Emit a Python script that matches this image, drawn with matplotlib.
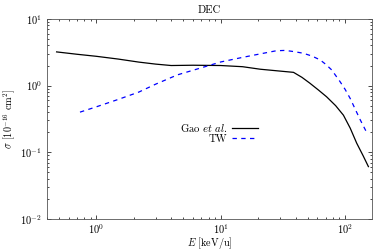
import matplotlib
matplotlib.use("Agg")
import matplotlib.pyplot as plt

plt.rcParams["font.family"] = "serif"
plt.rcParams["font.serif"] = ["cmr10"]
plt.rcParams["mathtext.fontset"] = "cm"
plt.rcParams["axes.formatter.use_mathtext"] = True
plt.rcParams["axes.unicode_minus"] = False

gao_energy = [0.48, 0.7, 1.0, 1.5, 2.2, 3.0, 4.0, 6.0, 10.0, 15.0, 20.8, 30.0, 38.5, 45.0, 52.0, 61.0, 71.0, 84.0, 97.0, 110.0, 124.0, 140.0, 154.0]
gao_sigma = [3.2, 2.95, 2.75, 2.5, 2.25, 2.1, 2.0, 2.02, 2.0, 1.92, 1.76, 1.65, 1.58, 1.33, 1.09, 0.86, 0.68, 0.5, 0.36, 0.23, 0.137, 0.088, 0.061]

tw_energy = [0.74, 1.0, 1.5, 2.2, 3.0, 4.5, 7.0, 10.0, 15.0, 22.0, 28.0, 33.0, 38.5, 46.0, 54.0, 63.0, 70.0, 78.0, 91.0, 100.0, 110.0, 132.0, 148.0]
tw_sigma = [0.40, 0.48, 0.62, 0.80, 1.05, 1.45, 1.85, 2.26, 2.65, 3.05, 3.33, 3.37, 3.24, 3.06, 2.78, 2.43, 2.08, 1.72, 1.15, 0.88, 0.64, 0.31, 0.204]

fig = plt.figure(figsize=(3.74, 2.52), dpi=100)
ax = fig.add_axes([0.125, 0.131, 0.87, 0.794])
ax.plot(gao_energy, gao_sigma, color="black", lw=0.9, label=r"Gao $\it{et\ al.}$")
ax.plot(tw_energy, tw_sigma, color="blue", lw=0.9, ls=(0, (3.5, 3.5)), label="TW")
ax.set_xscale("log"); ax.set_yscale("log")
ax.set_xlim(0.4, 165); ax.set_ylim(1e-2, 1e1)
ax.set_title("DEC", fontsize=7.7, pad=4)
ax.set_xlabel(r"$E$ [keV/u]", fontsize=7.3, labelpad=-1)
ax.set_ylabel(r"$\sigma$ [$10^{-16}$ cm$^2$]", fontsize=7.3, labelpad=2)
ax.tick_params(which="both", direction="in", top=True, right=True, labelsize=7.5, width=0.5)
ax.tick_params(which="major", length=3)
ax.tick_params(which="minor", length=1.5)
ax.tick_params(axis="x", pad=2.5)
for s in ax.spines.values():
    s.set_linewidth(0.6); s.set_color("#555555")
ax.legend(loc="center", bbox_to_anchor=(0.53, 0.43), frameon=False, fontsize=7.7,
          markerfirst=False, handlelength=2.5, labelspacing=0.1, handletextpad=0.4)
fig.savefig("out.png", dpi=100)
